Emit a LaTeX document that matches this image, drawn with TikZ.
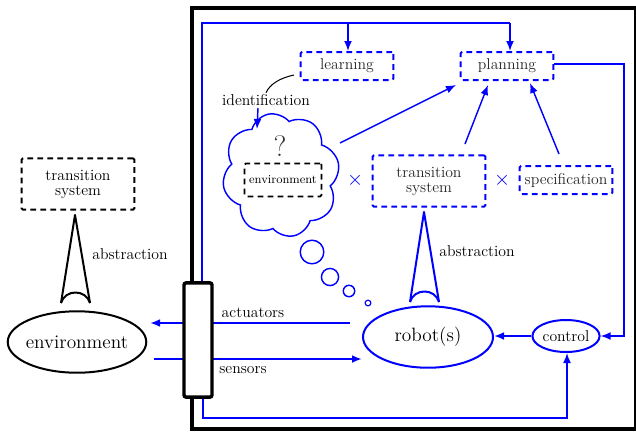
\documentclass[tikz,border=0pt]{standalone}
\usetikzlibrary{arrows.meta,shapes.geometric,shapes.symbols}
\newcommand{\lblfont}{\fontsize{11}{12.5}\selectfont}
\newcommand{\bigfont}{\fontsize{13.5}{15}\selectfont}
\begin{document}
\begin{tikzpicture}[x=0.7pt,y=-0.7pt,
  bl/.style={draw=blue, line width=1pt},
  arr/.style={-{Latex[length=7pt,width=5.5pt]}},
  dbox/.style={draw, dash pattern=on 4pt off 3pt, line width=1.4pt, rounded corners=1pt,
    inner sep=0pt, align=center, font=\lblfont},
  ell/.style={draw, ellipse, line width=1.4pt, inner sep=0pt},
  bub/.style={draw=blue, circle, line width=1pt, inner sep=0pt},
  lbl/.style={inner sep=1pt, font=\lblfont},
  cone/.style={line width=1.4pt, line join=round}
]
\useasboundingbox (0,0) rectangle (636,432);

% outer frame of the robot side
\draw[line width=2.2pt] (192,8) rectangle (636,429);

% nodes
\node[dbox, blue, minimum width=65pt, minimum height=19.6pt] (learning) at (347,66) {\color{black!85}learning};
\node[dbox, blue, minimum width=65pt, minimum height=19.6pt] (planning) at (507,66) {\color{black!85}planning};
\node[dbox, blue, minimum width=79pt, minimum height=36pt] (ts) at (429,181) {\color{black!85}transition\\[-2pt]\color{black!85}system};
\node[dbox, blue, minimum width=65pt, minimum height=19.6pt] (spec) at (566,180) {\color{black!85}specification};
\node[dbox, black, minimum width=79pt, minimum height=36pt] (ts2) at (78,184) {transition\\[-2pt]system};

\node[cloud, cloud puffs=8, cloud puff arc=125, aspect=0.9, draw=blue, line width=1pt,
  minimum width=82pt, minimum height=87pt, rotate=12] (cloud) at (281,175) {};
\node[dbox, black, line width=1.2pt, minimum width=54pt, minimum height=23pt, font=\fontsize{8.5}{10}\selectfont] (envs) at (283,180) {environment};
\node[font=\huge, text=black!80, inner sep=0pt] (q) at (280,146) {?};

\node[text=blue, font=\Large, inner sep=0pt] (x1) at (355,180) {$\times$};
\node[text=blue, font=\Large, inner sep=0pt] (x2) at (502,180) {$\times$};

\node[ell, draw=blue, minimum width=91pt, minimum height=43pt, font=\bigfont] (robot) at (428,337) {robot(s)};
\node[ell, draw=blue, minimum width=47pt, minimum height=22.4pt, font=\lblfont] (control) at (566,336) {control};
\node[ell, inner xsep=-4pt, minimum width=97pt, minimum height=43pt, font=\bigfont] (env) at (77,342) {environment};

% thought bubbles
\node[bub, minimum size=16.5pt] (b1) at (312,252) {};
\node[bub, minimum size=12pt] (b2) at (330,277) {};
\node[bub, minimum size=8pt] (b3) at (349,291) {};
\node[bub, minimum size=4pt, line width=0.8pt] (b4) at (368,303) {};

% labels
\node[lbl] (lid) at (266,100) {identification};
\node[lbl] (labs1) at (477,251) {abstraction};
\node[lbl] (labs2) at (130,254) {abstraction};
\node[lbl] (lact) at (253,313) {actuators};
\node[lbl] (lsen) at (243,370) {sensors};

% feedback loops in blue
\coordinate (bartop) at (202,284);
\coordinate (tl) at (202,23);
\coordinate (tm) at (348,23);
\coordinate (tr) at (510,23);
\draw[bl] (bartop) -- (tl) -- (tr);
\draw[bl, arr] (tm) -- (learning.north -| tm);
\draw[bl, arr] (tr) -- (planning.north -| tr);

\coordinate (barbot) at (203,396);
\coordinate (bl1) at (203,418);
\coordinate (br1) at (567,418);
\draw[bl, arr] (barbot) -- (bl1) -- (br1) -- (control.south -| br1);

\coordinate (pr) at (624,64);
\coordinate (cr) at (624,336);
\draw[bl, arr] (planning.east |- pr) -- (pr) -- (cr) -- (control.east);

\draw[bl, line width=1.3pt, arr] (control.west) -- (robot.east |- control.west);

% actuators and sensors
\coordinate (actstart) at (350,323);
\coordinate (acttip) at (150,323);
\draw[bl, line width=1.5pt, arr] (actstart) -- (acttip);
\coordinate (senstart) at (154,359);
\draw[bl, line width=1.5pt, arr] (senstart) -- (robot.west |- senstart) ;

% into planning
\coordinate (cl1) at (340,143);
\draw[bl, arr] (cl1) -- (456,85) coordinate (pl1);
\draw[bl, arr] (465,144) -- (488,85);
\draw[bl, arr] (559,154) -- (530,83);

% identification
\coordinate (idstart) at (294,75);
\draw[line width=0.7pt] (idstart) .. controls (280,78) and (270,84) .. (lid.north);
\draw[bl, arr] (258,108) -- (257,129);

% abstraction cones
\draw[cone, blue] (410,302) -- (424,212) -- (439,302);
\draw[cone, blue] (410,302) .. controls (414,288) and (435,288) .. (439,302);
\draw[cone] (61,303) -- (75,215) -- (90,303);
\draw[cone] (61,303) .. controls (65,289) and (86,289) .. (90,303);

% interface bar
\node[draw, fill=white, line width=2.4pt, rounded corners=1.5pt, minimum width=19.6pt, minimum height=80pt, inner sep=0pt] (bar) at (198,340) {};
\end{tikzpicture}
\end{document}
